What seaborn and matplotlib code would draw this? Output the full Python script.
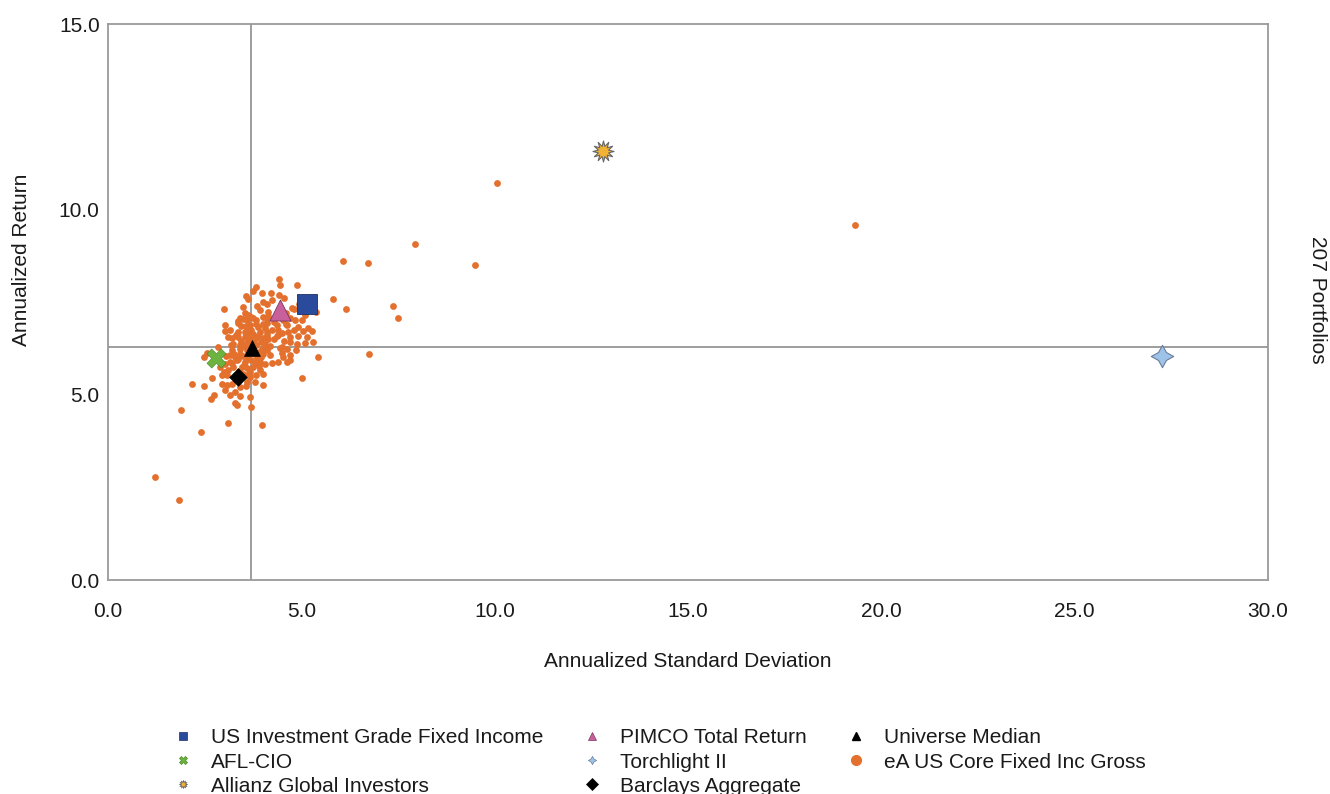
import matplotlib
matplotlib.use("Agg")
import matplotlib.pyplot as plt
import seaborn as sns
import pandas as pd
from matplotlib.lines import Line2D

# ---------------- data ----------------
universe_sd = [
    1.22, 1.84, 10.06, 19.32, 7.94, 6.08, 6.72, 9.49, 7.37, 7.50, 6.75,
    4.41, 4.45, 4.88, 3.83, 3.97, 4.21, 4.41, 3.56, 3.61, 4.02, 5.81, 3.00, 3.48,
    3.93, 4.15, 4.81, 5.37, 6.15, 3.54, 3.63, 3.41, 3.59, 3.76, 3.84, 4.02, 4.10,
    4.53, 4.71, 4.84, 5.03, 3.03, 3.37, 3.67, 3.89, 4.10, 4.36, 4.62, 4.92, 5.18,
    3.03, 3.15, 3.37, 3.59, 3.76, 3.93, 4.10, 4.40, 4.49, 4.66, 4.81, 5.05, 5.27,
    3.20, 3.37, 3.54, 3.67, 3.84, 4.02, 4.15, 4.36, 4.71, 4.92, 5.14, 5.31, 3.24,
    3.41, 3.59, 3.84, 4.06, 4.71, 4.88, 5.09, 3.20, 3.41, 3.59, 3.97, 4.10, 4.49,
    4.62, 2.85, 5.44, 3.15, 3.28, 3.41, 3.59, 3.80, 4.02, 4.19, 4.49, 4.53, 4.71,
    2.47, 2.55, 3.03, 3.15, 3.33, 3.54, 3.71, 3.93, 4.06, 4.40, 4.62, 4.71, 3.11,
    3.24, 3.46, 3.59, 3.76, 3.93, 5.01, 2.68, 2.94, 3.07, 3.59, 3.67, 3.84, 2.18,
    2.47, 3.07, 3.20, 3.58, 4.02, 2.75, 2.66, 3.03, 3.28, 3.41, 3.67, 3.28, 3.34,
    3.70, 1.88, 3.11, 3.98, 2.40,
    3.45, 3.52, 3.62, 3.70, 3.78, 3.88, 3.95, 4.05, 3.50, 3.62, 3.85, 3.95, 3.72,
    3.55, 3.32, 3.45, 3.82, 4.12, 4.25, 4.30, 3.40, 3.52, 3.80, 3.68, 3.48, 3.90,
    4.20, 4.30, 4.40, 4.55, 3.25, 3.18, 3.35, 4.00, 4.15, 3.70, 3.50, 4.60, 4.75,
    4.95, 5.10, 5.30, 3.85, 4.25, 3.75, 4.60, 4.45, 4.85, 3.30, 3.42, 3.15, 2.95,
    3.60, 3.80, 4.00, 4.25, 3.05, 2.90, 3.00, 3.20, 4.05, 3.65, 3.75, 3.58, 3.90,
    4.35, 4.10, 4.55, 3.35, 3.10,
]
universe_ret = [
    2.78, 2.16, 10.71, 9.58, 9.06, 8.61, 8.55, 8.50, 7.39, 7.07, 6.10,
    8.12, 7.96, 7.96, 7.91, 7.75, 7.75, 7.69, 7.66, 7.59, 7.51, 7.57, 7.30, 7.37,
    7.28, 7.23, 7.30, 7.22, 7.30, 7.19, 7.15, 7.06, 7.01, 7.06, 7.01, 7.10, 7.03,
    7.01, 7.06, 7.01, 7.01, 6.88, 6.92, 6.88, 6.83, 6.92, 6.88, 6.88, 6.83, 6.79,
    6.73, 6.74, 6.70, 6.79, 6.65, 6.70, 6.70, 6.74, 6.67, 6.70, 6.74, 6.73, 6.73,
    6.52, 6.55, 6.56, 6.49, 6.52, 6.52, 6.49, 6.58, 6.56, 6.58, 6.55, 6.43, 6.38,
    6.34, 6.40, 6.34, 6.37, 6.43, 6.38, 6.40, 6.20, 6.22, 6.20, 6.22, 6.20, 6.28,
    6.22, 6.28, 6.01, 6.07, 6.02, 6.11, 6.04, 6.11, 6.11, 6.07, 6.13, 6.02, 6.07,
    6.02, 6.13, 5.84, 5.89, 5.93, 5.89, 5.93, 5.89, 5.83, 5.89, 5.89, 5.93, 5.66,
    5.75, 5.75, 5.71, 5.74, 5.66, 5.44, 5.44, 5.53, 5.53, 5.53, 5.48, 5.53, 5.30,
    5.24, 5.26, 5.29, 5.23, 5.25, 4.99, 4.87, 5.12, 5.08, 4.96, 4.94, 4.78, 4.72,
    4.67, 4.58, 4.24, 4.17, 3.98,
    6.45, 6.30, 6.60, 6.75, 6.40, 6.58, 6.42, 6.80, 6.05, 5.98, 5.98, 6.02, 6.15,
    6.70, 6.60, 6.85, 6.90, 6.62, 6.75, 6.95, 5.65, 5.80, 5.85, 5.60, 5.55, 5.78,
    6.30, 6.50, 6.60, 6.45, 6.10, 6.35, 5.95, 6.90, 7.12, 7.10, 7.05, 7.20, 7.35,
    7.45, 7.15, 7.30, 7.40, 7.55, 7.80, 6.90, 6.25, 6.20, 5.40, 5.20, 5.00, 5.30,
    5.35, 5.35, 5.55, 5.85, 6.05, 5.75, 5.60, 5.85, 6.25, 6.50, 6.25, 6.85, 6.15,
    7.15, 7.45, 7.60, 7.00, 6.55,
]

median_sd = 3.70
median_ret = 6.29

managers = ["US Investment Grade Fixed Income", "AFL-CIO", "Allianz Global Investors",
            "PIMCO Total Return", "Torchlight II", "Barclays Aggregate", "Universe Median"]
manager_sd = [5.15, 2.79, 12.80, 4.45, 27.26, 3.36, 3.72]
manager_ret = [7.45, 5.99, 11.57, 7.28, 6.04, 5.48, 6.26]

universe_label = "eA US Core Fixed Inc Gross"
x_ticks = [0, 5, 10, 15, 20, 25, 30]
y_ticks = [0, 5, 10, 15]

# ---------------- styles ----------------
styles = {
    "US Investment Grade Fixed Income": dict(marker="s", color="#2A4A9C", edge="#1c2f66", s=200, lw=0.6),
    "AFL-CIO": dict(marker="X", color="#6DB33F", edge="#4e8a28", s=190, lw=0.4),
    "Allianz Global Investors": dict(marker=(12, 1, 0), color="#F2B233", edge="#666666", s=230, lw=0.8),
    "PIMCO Total Return": dict(marker="^", color="#C8609C", edge="#7a3560", s=230, lw=0.6),
    "Torchlight II": dict(marker=(4, 1, 0), color="#9DC3E8", edge="#6b7d99", s=260, lw=0.8),
    "Barclays Aggregate": dict(marker="D", color="black", edge="black", s=80, lw=0.5),
    "Universe Median": dict(marker="^", color="black", edge="black", s=130, lw=0.5),
}
dot_color = "#E4702E"

# ---------------- figure ----------------
sns.set_style("white")
plt.rcParams["font.family"] = ["Liberation Sans", "DejaVu Sans"]

fig = plt.figure(figsize=(13.3, 7.94), dpi=100)
ax = fig.add_axes([108 / 1330, 1 - 580 / 794, (1268 - 108) / 1330, (580 - 24) / 794])

ax.axvline(median_sd, color="#8c8c8c", lw=1.2, zorder=1)
ax.axhline(median_ret, color="#8c8c8c", lw=1.2, zorder=1)

sns.scatterplot(x=universe_sd, y=universe_ret, color=dot_color, s=24, linewidth=0,
                ax=ax, zorder=3, legend=False)

for name, xs, ys in zip(managers, manager_sd, manager_ret):
    st = styles[name]
    sns.scatterplot(x=[xs], y=[ys], marker=st["marker"], color=st["color"], s=st["s"],
                    edgecolor=st["edge"], linewidth=st["lw"], ax=ax, zorder=5, legend=False)

ax.set_xlim(0, 30)
ax.set_ylim(0, 15)
ax.set_xticks(x_ticks)
ax.set_yticks(y_ticks)
ax.set_xticklabels([f"{v:.1f}" for v in x_ticks])
ax.set_yticklabels([f"{v:.1f}" for v in y_ticks])
for sp in ax.spines.values():
    sp.set_color("#9a9a9a")
    sp.set_linewidth(1.3)
ax.tick_params(axis="x", direction="in", length=8, width=1, color="#9a9a9a",
               labelsize=15, pad=16, labelcolor="#1a1a1a")
ax.tick_params(axis="y", direction="in", length=12, width=1, color="#9a9a9a",
               labelsize=15, pad=6, labelcolor="#1a1a1a")

ax.set_xlabel("Annualized Standard Deviation", fontsize=15, color="#1a1a1a", labelpad=22)
ax.set_ylabel("Annualized Return", fontsize=15, color="#1a1a1a")
ax.yaxis.set_label_coords(-0.066, (580 - 260) / 556)
fig.text(1318 / 1330, 1 - 300 / 794, "207 Portfolios", rotation=270, fontsize=15,
         color="#1a1a1a", ha="center", va="center")

# legend
handles = []
labels = []
for name in managers[:6]:
    st = styles[name]
    handles.append(Line2D([], [], linestyle="none", marker=st["marker"], markersize=6,
                          markerfacecolor=st["color"], markeredgecolor=st["edge"],
                          markeredgewidth=0.5))
    labels.append(name)
handles.append(Line2D([], [], linestyle="none", marker="^", markersize=6,
                      markerfacecolor="black", markeredgecolor="black"))
labels.append("Universe Median")
handles.append(Line2D([], [], linestyle="none", marker="o", markersize=7,
                      markerfacecolor=dot_color, markeredgecolor=dot_color))
labels.append(universe_label)

fig.legend(handles, labels, ncol=3, loc="upper left",
           bbox_to_anchor=(162 / 1330, 1 - 720 / 794), frameon=False, fontsize=15,
           handlelength=1.2, handletextpad=0.75, columnspacing=1.75, labelspacing=0.25,
           borderaxespad=0, labelcolor="#1a1a1a")

fig.savefig("out.png", dpi=100, facecolor="white")
